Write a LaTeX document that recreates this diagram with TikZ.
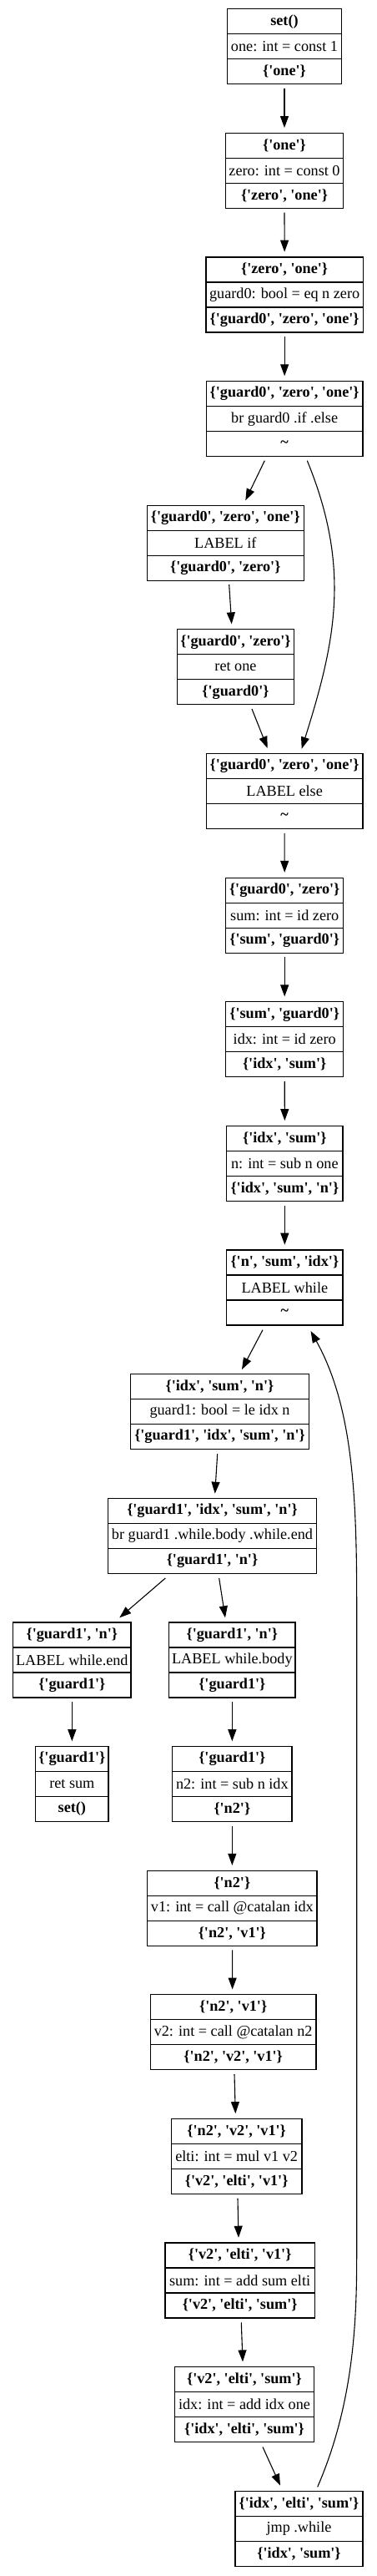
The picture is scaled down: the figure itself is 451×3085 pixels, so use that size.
\documentclass[tikz,border=0pt]{standalone}
\usepackage{fontspec}
\setmainfont{Liberation Serif}
\usetikzlibrary{arrows.meta}
\newcommand\gvf{\fontsize{18.2pt}{22pt}\selectfont}
\newcommand\qq[1]{\textquotesingle#1\textquotesingle}
\tikzset{
  blkbox/.style={draw, line width=1.2pt, minimum height=90pt, inner sep=0pt, outer sep=0pt},
  txt/.style={font=\gvf, inner sep=0pt},
  btxt/.style={font=\gvf\bfseries, inner sep=0pt},
  sepline/.style={line width=1.2pt},
  edge/.style={line width=1.1pt, -{Triangle[length=14pt,width=10pt]}},
}
\newcommand\blk[7]{%
  \node[blkbox, minimum width=#4pt] (#1) at (#2,#3) {};
  \draw[sepline] ([yshift=15pt]#1.west) -- ([yshift=15pt]#1.east);
  \draw[sepline] ([yshift=-15pt]#1.west) -- ([yshift=-15pt]#1.east);
  \node[btxt] (#1-a) at ([yshift=30pt]#1.center) {#5};
  \node[txt] (#1-b) at (#1.center) {#6};
  \node[btxt] (#1-c) at ([yshift=-30pt]#1.center) {#7};
}
\newcommand\vedge[2]{\draw[edge] ([shift={(0,5.3)}]#1.south) -- ([shift={(0,-6.3)}]#2.north);}
\begin{document}
\begin{tikzpicture}[x=1pt,y=-1pt]
\useasboundingbox (0,0) rectangle (451,3085);
\blk{b0}{341}{55.7}{136.6}{set()}{one: int = const 1}{\{\qq{one}\}}
\blk{b1}{341}{204.33}{141.4}{\{\qq{one}\}}{zero: int = const 0}{\{\qq{zero}, \qq{one}\}}
\blk{b2}{341.15}{352.96}{188.3}{\{\qq{zero}, \qq{one}\}}{guard0: bool = eq n zero}{\{\qq{guard0}, \qq{zero}, \qq{one}\}}
\blk{b3}{341.15}{501.59}{187.7}{\{\qq{guard0}, \qq{zero}, \qq{one}\}}{br guard0 .if .else}{\textasciitilde}
\blk{b4}{270.3}{650.22}{188}{\{\qq{guard0}, \qq{zero}, \qq{one}\}}{LABEL if}{\{\qq{guard0}, \qq{zero}\}}
\blk{b5}{282.5}{798.85}{140.4}{\{\qq{guard0}, \qq{zero}\}}{ret one}{\{\qq{guard0}\}}
\blk{b6}{341.15}{947.48}{187.7}{\{\qq{guard0}, \qq{zero}, \qq{one}\}}{LABEL else}{\textasciitilde}
\blk{b7}{341.2}{1096.11}{141}{\{\qq{guard0}, \qq{zero}\}}{sum: int = id zero}{\{\qq{sum}, \qq{guard0}\}}
\blk{b8}{341.2}{1244.74}{141}{\{\qq{sum}, \qq{guard0}\}}{idx: int = id zero}{\{\qq{idx}, \qq{sum}\}}
\blk{b9}{341.35}{1393.37}{139.3}{\{\qq{idx}, \qq{sum}\}}{n: int = sub n one}{\{\qq{idx}, \qq{sum}, \qq{n}\}}
\blk{b10}{341.35}{1542.0}{139.3}{\{\qq{n}, \qq{sum}, \qq{idx}\}}{LABEL while}{\textasciitilde}
\blk{b11}{263.5}{1690.63}{214.4}{\{\qq{idx}, \qq{sum}, \qq{n}\}}{guard1: bool = le idx n}{\{\qq{guard1}, \qq{idx}, \qq{sum}, \qq{n}\}}
\blk{b12}{254.5}{1839.26}{250.4}{\{\qq{guard1}, \qq{idx}, \qq{sum}, \qq{n}\}}{br guard1 .while.body .while.end}{\{\qq{guard1}, \qq{n}\}}
\blk{b13a}{86.35}{1987.89}{141.3}{\{\qq{guard1}, \qq{n}\}}{LABEL while.end}{\{\qq{guard1}\}}
\blk{b13b}{278.35}{1987.89}{151.3}{\{\qq{guard1}, \qq{n}\}}{LABEL while.body}{\{\qq{guard1}\}}
\blk{b14a}{86.35}{2136.52}{87.3}{\{\qq{guard1}\}}{ret sum}{set()}
\blk{b14b}{278.35}{2136.52}{143.3}{\{\qq{guard1}\}}{n2: int = sub n idx}{\{\qq{n2}\}}
\blk{b15}{278.35}{2285.15}{203.3}{\{\qq{n2}\}}{v1: int = call @catalan idx}{\{\qq{n2}, \qq{v1}\}}
\blk{b16}{279.65}{2433.78}{198.7}{\{\qq{n2}, \qq{v1}\}}{v2: int = call @catalan n2}{\{\qq{n2}, \qq{v2}, \qq{v1}\}}
\blk{b17}{283.65}{2582.41}{156.7}{\{\qq{n2}, \qq{v2}, \qq{v1}\}}{elti: int = mul v1 v2}{\{\qq{v2}, \qq{elti}, \qq{v1}\}}
\blk{b18}{287.65}{2731.04}{179.3}{\{\qq{v2}, \qq{elti}, \qq{v1}\}}{sum: int = add sum elti}{\{\qq{v2}, \qq{elti}, \qq{sum}\}}
\blk{b19}{293}{2879.67}{166.6}{\{\qq{v2}, \qq{elti}, \qq{sum}\}}{idx: int = add idx one}{\{\qq{idx}, \qq{elti}, \qq{sum}\}}
\blk{b20}{358.5}{3028.3}{153}{\{\qq{idx}, \qq{elti}, \qq{sum}\}}{jmp .while}{\{\qq{idx}, \qq{sum}\}}
% edges
\vedge{b0}{b1}
\vedge{b1}{b2}
\vedge{b2}{b3}
\draw[edge] ([shift={(-23.85,5.1)}]b3.south) -- ([shift={(24,-5.9)}]b4.north);
\draw[edge] ([shift={(27.15,5.1)}]b3.south) .. controls (421,680) and (402.3,768) .. ([shift={(20.55,-5.8)}]b6.north);
\draw[edge] ([shift={(4.4,4.8)}]b4.south) -- ([shift={(-4.8,-6.5)}]b5.north);
\draw[edge] ([shift={(19.5,5.15)}]b5.south) -- ([shift={(-20.45,-6.5)}]b6.north);
\vedge{b6}{b7}
\vedge{b7}{b8}
\vedge{b8}{b9}
\vedge{b9}{b10}
\draw[edge] ([shift={(-26.35,5.7)}]b10.south) -- ([shift={(26.5,-5.6)}]b11.north);
\draw[edge] ([shift={(-2.8,5.4)}]b11.south) -- ([shift={(3.2,-5.6)}]b12.north);
\draw[edge] ([shift={(-56.2,5.7)}]b12.south) -- ([shift={(56.95,-5.6)}]b13a.north);
\draw[edge] ([shift={(8.2,5.7)}]b12.south) -- ([shift={(-8.35,-5.6)}]b13b.north);
\vedge{b13a}{b14a}
\vedge{b13b}{b14b}
\vedge{b14b}{b15}
\draw[edge] ([shift={(0.3,5.3)}]b15.south) -- ([shift={(-1,-6.3)}]b16.north);
\draw[edge] ([shift={(1.35,5.3)}]b16.south) -- ([shift={(-1.35,-6.3)}]b17.north);
\draw[edge] ([shift={(1.35,5.3)}]b17.south) -- ([shift={(-1.65,-6.3)}]b18.north);
\draw[edge] ([shift={(1.65,5.3)}]b18.south) -- ([shift={(-2,-6.3)}]b19.north);
\draw[edge] ([shift={(22,5.8)}]b19.south) -- ([shift={(-22.5,-6.6)}]b20.north);
\draw[edge] ([shift={(22.2,-5)}]b20.north) .. controls (424.1,2878.3) and (427.7,2780) .. (427.7,2700) -- (427.7,1920) .. controls (427.7,1790) and (422.7,1684) .. ([shift={(31.2,7)}]b10.south);
\end{tikzpicture}
\end{document}
